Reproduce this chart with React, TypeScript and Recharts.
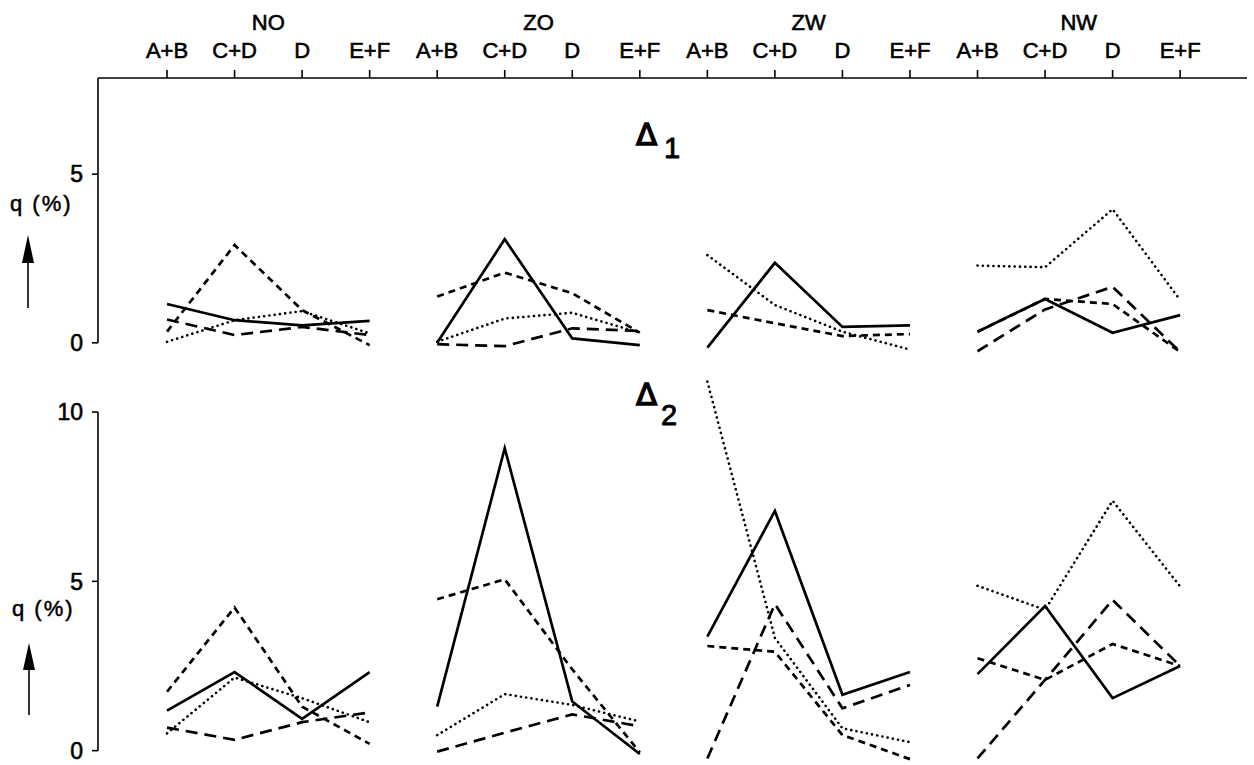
import React from "react";
import {
  LineChart,
  Line,
  XAxis,
  YAxis,
  ReferenceLine,
} from "recharts";

const groups = ["NO", "ZO", "ZW", "NW"];
const categories = ["A+B", "C+D", "D", "E+F"];

// q (%) per group, read left to right: NO, ZO, ZW, NW (4 categories each)
const delta1Solid = [1.15, 0.67, 0.52, 0.65, 0, 3.07, 0.13, -0.07, -0.14, 2.37, 0.47, 0.52, 0.33, 1.3, 0.3, 0.82];
const delta1LongDash = [0.69, 0.23, 0.47, 0.23, -0.04, -0.1, 0.43, 0.35, null, null, null, null, -0.25, 0.99, 1.66, -0.27];
const delta1ShortDash = [0.33, 2.9, 0.97, -0.07, 1.37, 2.08, 1.47, 0.3, 0.97, 0.58, 0.2, 0.26, 0.33, 1.3, 1.15, -0.27];
const delta1Dotted = [0.03, 0.67, 0.94, 0.28, 0.03, 0.72, 0.89, 0.3, 2.6, 1.12, 0.33, -0.2, 2.29, 2.24, 3.96, 1.27];

const delta2Solid = [1.18, 2.32, 0.94, 2.32, 1.3, 8.93, 1.45, -0.1, 3.37, 7.08, 1.65, 2.32, 2.26, 4.27, 1.55, 2.5];
const delta2LongDash = [0.68, 0.32, 0.84, 1.13, -0.03, 0.53, 1.07, 0.72, -0.23, 4.33, 1.25, 1.94, -0.23, 2.09, 4.45, 2.5];
const delta2ShortDash = [1.74, 4.23, 1.3, 0.2, 4.47, 5.06, 2.4, -0.05, 3.09, 2.92, 0.46, -0.25, 2.73, 2.09, 3.15, 2.5];
const delta2Dotted = [0.51, 2.16, 1.55, 0.84, 0.46, 1.67, 1.35, 0.86, 10.9, 3.33, 0.66, 0.25, 4.87, 4.16, 7.38, 4.85];

const styles = [
  { key: "solid", dash: undefined, width: 2.7, cap: "butt" },
  { key: "long", dash: "12 7", width: 2.7, cap: "butt" },
  { key: "short", dash: "7 5", width: 2.7, cap: "butt" },
  { key: "dot", dash: "0.1 5.2", width: 2.6, cap: "round" },
] as const;

const X_MIN = -1.022;
const X_MAX = 15.99;
const Y1_DOMAIN: [number, number] = [-0.45, 7.85];
const Y2_DOMAIN: [number, number] = [-0.3, 11.1];

const positions = groups.flatMap((g) => categories.map((c) => `${g} ${c}`));

// one key per style and group so that each group is drawn as its own polyline
function buildRows(series: Record<string, (number | null)[]>) {
  return positions.map((_, i) => {
    const g = groups[Math.floor(i / 4)];
    const row: Record<string, number | null> = { x: i };
    Object.entries(series).forEach(([k, vals]) => {
      row[`${k}-${g}`] = vals[i];
    });
    return row;
  });
}

const rows1 = buildRows({
  solid: delta1Solid,
  long: delta1LongDash,
  short: delta1ShortDash,
  dot: delta1Dotted,
});
const rows2 = buildRows({
  solid: delta2Solid,
  long: delta2LongDash,
  short: delta2ShortDash,
  dot: delta2Dotted,
});

const seriesLines = (xAxisId: string) =>
  styles.flatMap((s) =>
    groups.map((g) => (
      <Line
        key={`${s.key}-${g}`}
        xAxisId={xAxisId}
        type="linear"
        dataKey={`${s.key}-${g}`}
        stroke="#000"
        strokeWidth={s.width}
        strokeDasharray={s.dash}
        strokeLinecap={s.cap}
        dot={false}
        activeDot={false}
        connectNulls={false}
        isAnimationActive={false}
      />
    ))
  );

// lettering is a bit heavier than the plain font, so give it a thin outline
const ink = { fill: "#000", stroke: "#000", strokeWidth: 0.6 };
const tickFont = { fontSize: 22, ...ink };
const yTickFont = { fontSize: 23, ...ink };

export default function App() {
  return (
    <div
      style={{
        position: "absolute",
        left: 0,
        top: 0,
        width: 1254,
        height: 765,
        overflow: "hidden",
        background: "#fff",
        fontFamily: "'Liberation Sans', Arial, sans-serif",
      }}
    >
      <div style={{ position: "absolute", left: 0, top: 0 }}>
        <LineChart
          width={1254}
          height={358}
          data={rows1}
          margin={{ top: 0, right: 7, bottom: 0, left: 0 }}
        >
          <XAxis
            xAxisId="cat"
            orientation="top"
            type="number"
            dataKey="x"
            domain={[X_MIN, X_MAX]}
            ticks={positions.map((_, i) => i)}
            tickFormatter={(v) => categories[v % 4]}
            height={40}
            tickSize={8}
            tickMargin={12}
            tick={tickFont}
            stroke="#000"
            axisLine={{ stroke: "#000", strokeWidth: 1.6 }}
            tickLine={{ stroke: "#000", strokeWidth: 1.6 }}
            interval={0}
          />
          <XAxis
            xAxisId="grp"
            orientation="top"
            type="number"
            dataKey="x"
            domain={[X_MIN, X_MAX]}
            ticks={[1.5, 5.5, 9.5, 13.5]}
            tickFormatter={(v) => groups[Math.floor(v / 4)]}
            height={38}
            tickSize={0}
            tickMargin={8}
            tick={tickFont}
            axisLine={false}
            tickLine={false}
            interval={0}
          />
          <YAxis
            type="number"
            domain={Y1_DOMAIN}
            ticks={[0, 5]}
            width={98}
            axisLine={false}
            tickSize={6}
            tickMargin={9}
            tick={yTickFont}
            tickLine={{ stroke: "#000", strokeWidth: 1.6 }}
          />
          <ReferenceLine
            xAxisId="cat"
            segment={[
              { x: X_MIN, y: 0 },
              { x: X_MIN, y: Y1_DOMAIN[1] },
            ]}
            stroke="#000"
            strokeWidth={1.6}
            ifOverflow="visible"
          />
          {seriesLines("cat")}
        </LineChart>
      </div>

      <div style={{ position: "absolute", left: 0, top: 358 }}>
        <LineChart
          width={1254}
          height={407}
          data={rows2}
          margin={{ top: 16.8, right: 7, bottom: 4.2, left: 0 }}
        >
          <XAxis
            xAxisId="cat"
            type="number"
            dataKey="x"
            domain={[X_MIN, X_MAX]}
            hide
          />
          <YAxis
            type="number"
            domain={Y2_DOMAIN}
            ticks={[0, 5, 10]}
            width={98}
            axisLine={false}
            tickSize={6}
            tickMargin={9}
            tick={yTickFont}
            tickLine={{ stroke: "#000", strokeWidth: 1.6 }}
          />
          <ReferenceLine
            xAxisId="cat"
            segment={[
              { x: X_MIN, y: 0 },
              { x: X_MIN, y: 10 },
            ]}
            stroke="#000"
            strokeWidth={1.6}
            ifOverflow="visible"
          />
          {seriesLines("cat")}
        </LineChart>
      </div>

      {/* panel titles and the q (%) axis captions with their arrows */}
      <svg
        width={1254}
        height={765}
        style={{ position: "absolute", left: 0, top: 0, pointerEvents: "none" }}
      >
        <g fill="#000" stroke="#000">
          <text x={636} y={145} fontSize={31} strokeWidth={1.4} fontFamily="'DejaVu Sans', sans-serif">Δ</text>
          <text x={664} y={158} fontSize={29} strokeWidth={0.9}>1</text>
          <text x={636} y={405} fontSize={31} strokeWidth={1.4} fontFamily="'DejaVu Sans', sans-serif">Δ</text>
          <text x={661} y={425} fontSize={29} strokeWidth={0.9}>2</text>

          <text x={10} y={211} fontSize={22} strokeWidth={0.5} letterSpacing={2}>q (%)</text>
          <text x={12} y={616} fontSize={22} strokeWidth={0.5} letterSpacing={2}>q (%)</text>
        </g>
        <line x1={28} y1={308} x2={28} y2={260} stroke="#000" strokeWidth={1.6} />
        <polygon points="28,235 22,263 34,263" fill="#000" />
        <line x1={29} y1={715} x2={29} y2={667} stroke="#000" strokeWidth={1.6} />
        <polygon points="29,643 23,670 35,670" fill="#000" />
      </svg>
    </div>
  );
}
